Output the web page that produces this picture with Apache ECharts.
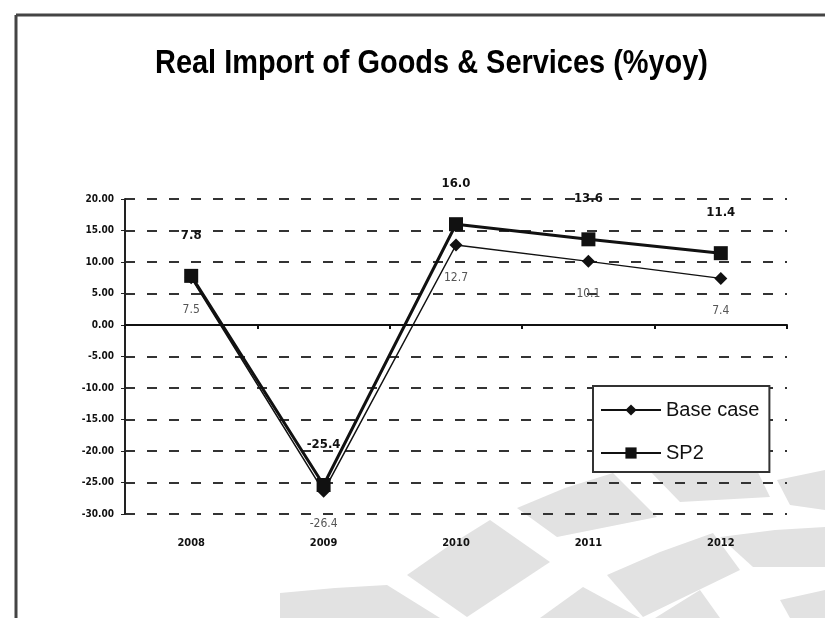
<!DOCTYPE html>
<html>
<head>
<meta charset="utf-8">
<script src="https://cdn.jsdelivr.net/npm/echarts@6/dist/echarts.min.js"></script>
<style>
html,body{margin:0;padding:0;background:#fff;}
#c{width:825px;height:618px;}
</style>
</head>
<body>
<div id="c"></div>
<script>
const titleText = 'Real Import of Goods & Services (%yoy)';
const categories = ['2008', '2009', '2010', '2011', '2012'];
const baseCase = [7.5, -26.4, 12.7, 10.1, 7.4];
const sp2 = [7.8, -25.4, 16.0, 13.6, 11.4];
const yTicks = [20, 15, 10, 5, 0, -5, -10, -15, -20, -25, -30];

const NARROW = '"DejaVu Sans Condensed", "Liberation Sans Narrow", Arial, sans-serif';
const TITLE_FONT = 'bold 34px "Liberation Sans", Arial, sans-serif';
const TITLE_WIDTH = 553;
const mctx = document.createElement('canvas').getContext('2d');
mctx.font = TITLE_FONT;
const titleScale = TITLE_WIDTH / mctx.measureText(titleText).width;

const wm = '#e2e2e2';
function poly(pts){ return {type:'polygon', z:-10, silent:true, shape:{points:pts}, style:{fill:wm}}; }

const chart = echarts.init(document.getElementById('c'), null, {renderer:'canvas'});
chart.setOption({
  backgroundColor:'#fff',
  animation:false,
  graphic:[
    {type:'text', z:5, x:155, y:64, scaleX:titleScale, scaleY:1,
      style:{text:titleText, font:TITLE_FONT, fill:'#000', align:'left', verticalAlign:'middle'}},
    {type:'line', z:5, shape:{x1:16,y1:15,x2:825,y2:15}, style:{stroke:'#444', lineWidth:3}},
    {type:'line', z:5, shape:{x1:16,y1:15,x2:16,y2:618}, style:{stroke:'#444', lineWidth:3}},
    poly([[280,593],[335,588],[387,585],[440,618],[280,618]]),
    poly([[407,575],[450,545],[490,520],[550,562],[467,617]]),
    poly([[517,508],[565,488],[613,473],[657,517],[557,537]]),
    poly([[540,618],[583,587],[640,618]]),
    poly([[607,575],[660,552],[713,533],[740,570],[643,617]]),
    poly([[647,468],[700,457],[747,450],[770,497],[680,502]]),
    poly([[720,537],[775,530],[825,527],[825,567],[753,567]]),
    poly([[777,480],[825,470],[825,510],[790,505]]),
    poly([[780,600],[825,590],[825,618],[790,618]]),
    poly([[655,618],[700,590],[720,618]])
  ],
  legend:{
    orient:'vertical', left:593, top:386,
    padding:[14,10,9,7], itemGap:23,
    itemWidth:60, itemHeight:14,
    backgroundColor:'#fff', borderColor:'#333', borderWidth:2,
    textStyle:{fontFamily:'"Liberation Sans", Arial, sans-serif', fontSize:20, color:'#111'},
    data:['Base case','SP2']
  },
  grid:{left:125, right:38, top:199, bottom:104, containLabel:false},
  xAxis:[{
    type:'category', data:categories, boundaryGap:true, position:'bottom',
    axisLine:{show:false, onZero:false}, axisTick:{show:false},
    axisLabel:{margin:24, fontFamily:NARROW, fontWeight:'bold', fontSize:11, color:'#111'},
    splitLine:{show:false}
  },{
    type:'category', data:categories, boundaryGap:true, position:'top',
    axisLine:{show:true, onZero:true, lineStyle:{color:'#111', width:2}},
    axisTick:{show:true, inside:true, length:4, lineStyle:{color:'#111', width:2}},
    axisLabel:{show:false}, splitLine:{show:false}
  }],
  yAxis:{
    type:'value', min:-30, max:20, interval:5,
    axisLine:{show:true, onZero:false, lineStyle:{color:'#222', width:2}},
    axisTick:{show:true, length:4, lineStyle:{color:'#222'}},
    axisLabel:{margin:11, fontFamily:NARROW, fontWeight:'bold', fontSize:10, color:'#111',
      formatter:v => yTicks.indexOf(v) >= 0 ? v.toFixed(2) : ''},
    splitLine:{show:true, lineStyle:{color:'#333', width:2, type:[10,12]}}
  },
  series:[{
    name:'Base case', type:'line', data:baseCase, xAxisIndex:0,
    symbol:'diamond', symbolSize:13,
    lineStyle:{color:'#111', width:1.5}, itemStyle:{color:'#111'},
    label:{show:true, position:'bottom', distance:20, formatter:p => p.value.toFixed(1),
      fontFamily:NARROW, fontSize:12, color:'#555'},
    z:3
  },{
    name:'SP2', type:'line', data:sp2, xAxisIndex:0,
    symbol:'rect', symbolSize:14,
    lineStyle:{color:'#111', width:3}, itemStyle:{color:'#111'},
    label:{show:true, position:'top', distance:27, formatter:p => p.value.toFixed(1),
      fontFamily:NARROW, fontWeight:'bold', fontSize:13, color:'#111'},
    z:4
  }]
});
</script>
</body>
</html>
